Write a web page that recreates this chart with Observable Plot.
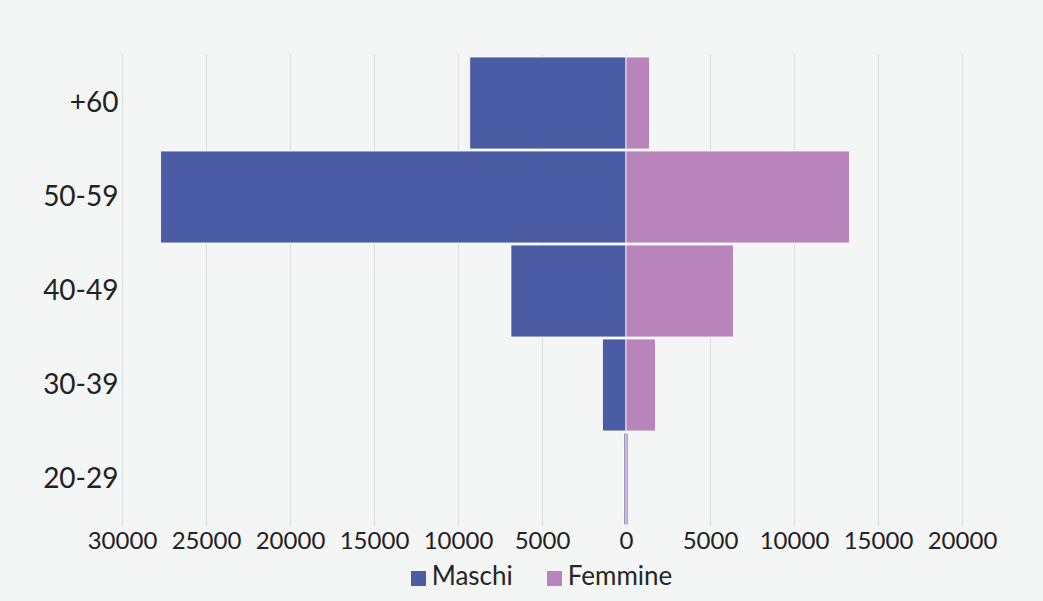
<!DOCTYPE html>
<html>
<head>
<meta charset="utf-8">
<script src="https://cdn.jsdelivr.net/npm/d3@7"></script>
<script src="https://cdn.jsdelivr.net/npm/@observablehq/plot@0.6"></script>
<style>
  html, body { margin: 0; padding: 0; background: #f4f6f6; }
  body { width: 1043px; height: 601px; overflow: hidden; font-family: Lato, "Open Sans", sans-serif; }
  #legend { display: flex; justify-content: center; align-items: center; gap: 34px; font-size: 26px; color: #262626; margin-top: 2px; padding-left: 40px; }
  #legend span.sw { display: inline-block; width: 15px; height: 15px; margin-right: 6px; vertical-align: middle; }
</style>
</head>
<body>
<div id="chart"></div>
<div id="legend"></div>
<script>
const ages = ["20-29", "30-39", "40-49", "50-59", "+60"];
const maschi = [120, 1400, 6850, 27700, 9300];
const femmine = [130, 1750, 6400, 13300, 1400];
const xTicks = [-30000, -25000, -20000, -15000, -10000, -5000, 0, 5000, 10000, 15000, 20000];
const seriesNames = ["Maschi", "Femmine"];
const seriesColors = ["#4a5ca3", "#b884bb"];

const rows = [];
ages.forEach((a, i) => {
  rows.push({age: a, sex: seriesNames[0], v: -maschi[i]});
  rows.push({age: a, sex: seriesNames[1], v: femmine[i]});
});

const chart = Plot.plot({
  width: 1043,
  height: 557,
  marginLeft: 122,
  marginRight: 81,
  marginTop: 55,
  marginBottom: 30,
  style: {background: "transparent", fontFamily: "Lato, 'Open Sans', sans-serif", fontSize: "24px", color: "#222"},
  x: {domain: [-30000, 20000], ticks: xTicks, tickFormat: d => Math.abs(d).toString(), label: null, tickSize: 0, tickPadding: 4},
  y: {domain: ages.slice().reverse(), label: null, tickSize: 0, tickPadding: 4, padding: 0.02},
  color: {domain: seriesNames, range: seriesColors},
  marks: [
    Plot.ruleX(xTicks, {stroke: "#d9dddd", strokeWidth: 1}),
    Plot.barX(rows, {x: "v", y: "age", fill: "sex", stroke: "white", strokeWidth: 0.8}),
    Plot.axisX({ticks: xTicks, tickFormat: d => Math.abs(d).toString(), tickSize: 0, tickPadding: 4, label: null, fontSize: 24}),
    Plot.axisY({tickSize: 0, tickPadding: 4, label: null, fontSize: 28})
  ]
});
document.getElementById("chart").appendChild(chart);

const lg = document.getElementById("legend");
seriesNames.forEach((n, i) => {
  const d = document.createElement("div");
  d.innerHTML = `<span class="sw" style="background:${seriesColors[i]}"></span>${n}`;
  lg.appendChild(d);
});
</script>
</body>
</html>
